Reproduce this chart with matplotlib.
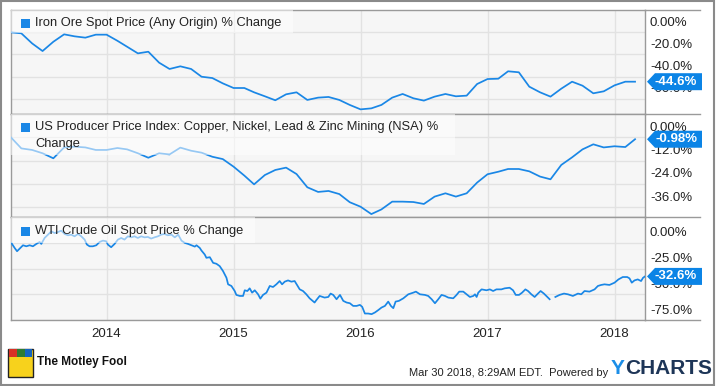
import numpy as np
import pandas as pd
import matplotlib
matplotlib.use("Agg")
import matplotlib.pyplot as plt
from matplotlib.patches import Rectangle, Polygon
from matplotlib.lines import Line2D
from matplotlib.transforms import blended_transform_factory, offset_copy

plt.rcParams['font.family'] = ['Liberation Sans', 'DejaVu Sans']

# ---------------- data ----------------
month_dates = pd.date_range('2013-04-01', periods=60, freq='MS')

iron_ore = [0, -0.9, -10.0, -16.9, -8.5, -1.8, -3.6, -4.8, -2.1, -2.1,
            -7.6, -13.0, -19.0, -17.5, -27.4, -33.1, -30.7, -33.1, -40.1, -41.3,
            -46.1, -50.3, -50.3, -54.2, -57.8, -61.4, -56.0, -54.2, -61.1, -59.0,
            -58.4, -61.1, -65.6, -69.6, -68.7, -65.6, -59.0, -55.7, -59.6, -61.7,
            -58.1, -55.7, -57.8, -57.2, -46.7, -42.2, -41.9, -35.2, -36.1, -49.1,
            -54.2, -58.1, -50.9, -44.6, -48.2, -55.1, -53.3, -47.9, -44.6, -44.6]

ppi_metals = [0, -5.7, -6.5, -8.2, -10.8, -5.2, -4.8, -5.2, -6.5, -6.5,
              -5.5, -6.2, -8.2, -10.5, -8.2, -8.8, -5.3, -6.9, -7.9, -10.0,
              -11.2, -15.1, -19.7, -24.2, -19.4, -16.8, -15.6, -18.9, -25.7, -28.1,
              -27.6, -29.2, -33.4, -35.7, -39.5, -37.1, -33.1, -33.1, -33.3, -34.3,
              -30.5, -28.8, -30.5, -28.8, -23.3, -19.0, -17.7, -16.3, -16.3, -17.5,
              -20.2, -21.6, -14.2, -10.3, -6.2, -3.6, -5.2, -4.6, -5.0, -0.98]

wti_points = [
    (2013.250, 0), (2013.276, -4.9), (2013.295, -8.1), (2013.316, -5.5), (2013.342, -2.3),
    (2013.368, -3.3), (2013.394, -2.3), (2013.420, -3.3), (2013.447, -1.0), (2013.473, 0.9),
    (2013.486, -1.0), (2013.512, 4.8), (2013.538, 8.0), (2013.565, 11.2), (2013.591, 9.6),
    (2013.617, 10.6), (2013.643, 11.9), (2013.670, 8.7), (2013.696, 7.4), (2013.722, 8.0),
    (2013.748, 6.4), (2013.775, 8.7), (2013.801, 6.4), (2013.827, 3.2), (2013.845, -1.6),
    (2013.866, -3.3), (2013.892, -3.3), (2013.919, -2.3), (2013.945, 0.9), (2013.971, 2.2),
    (2013.997, 1.6), (2014.010, -1.6), (2014.036, -4.2), (2014.063, -1.0), (2014.089, 3.2),
    (2014.115, 4.8), (2014.141, 3.2), (2014.167, 6.4), (2014.194, 5.4), (2014.220, 6.4),
    (2014.246, 4.8), (2014.272, 6.4), (2014.299, 5.4), (2014.325, 5.8), (2014.351, 4.2),
    (2014.377, 5.4), (2014.404, 6.4), (2014.430, 8.0), (2014.456, 8.7), (2014.482, 7.4),
    (2014.511, 8.0), (2014.537, 5.4), (2014.564, 8.0), (2014.590, 2.2), (2014.616, 0.0),
    (2014.642, -1.0), (2014.669, -2.3), (2014.695, -3.6), (2014.708, -2.3), (2014.734, -4.9),
    (2014.747, -7.4), (2014.773, -11.3), (2014.786, -14.5), (2014.813, -13.9), (2014.839, -19.4),
    (2014.865, -20.3), (2014.891, -22.6), (2014.917, -27.4), (2014.944, -33.9), (2014.957, -40.3),
    (2014.983, -41.9), (2015.009, -46.8), (2015.022, -50.6), (2015.049, -51.6), (2015.075, -51.6),
    (2015.088, -46.1), (2015.109, -46.8), (2015.127, -44.2), (2015.146, -48.4), (2015.167, -46.1),
    (2015.193, -50.0), (2015.211, -54.2), (2015.232, -50.6), (2015.259, -48.4), (2015.285, -41.9),
    (2015.311, -42.9), (2015.337, -40.3), (2015.363, -37.1), (2015.382, -40.3), (2015.403, -37.7),
    (2015.429, -36.5), (2015.455, -37.7), (2015.481, -37.1), (2015.494, -39.7), (2015.521, -45.2),
    (2015.547, -46.8), (2015.573, -50.0), (2015.599, -53.9), (2015.638, -58.0), (2015.651, -55.8),
    (2015.678, -51.6), (2015.704, -52.6), (2015.717, -53.2), (2015.746, -52.6), (2015.764, -49.3),
    (2015.785, -50.6), (2015.811, -54.8), (2015.838, -50.6), (2015.864, -56.4), (2015.890, -58.0),
    (2015.916, -58.7), (2015.942, -61.3), (2015.969, -61.3), (2015.995, -60.3), (2016.013, -62.2),
    (2016.034, -68.7), (2016.060, -68.7), (2016.087, -69.3), (2016.113, -67.7), (2016.139, -65.4),
    (2016.165, -62.9), (2016.192, -61.3), (2016.218, -57.1), (2016.239, -61.3), (2016.258, -63.5),
    (2016.276, -57.1), (2016.302, -56.4), (2016.337, -53.9), (2016.376, -50.0), (2016.415, -48.4),
    (2016.436, -47.4), (2016.468, -50.0), (2016.507, -50.6), (2016.533, -51.6), (2016.560, -54.8),
    (2016.586, -58.7), (2016.612, -54.8), (2016.638, -50.6), (2016.665, -51.6), (2016.691, -53.2),
    (2016.730, -53.9), (2016.756, -50.6), (2016.777, -47.4), (2016.809, -47.4), (2016.835, -50.0),
    (2016.861, -52.6), (2016.888, -51.6), (2016.901, -50.0), (2016.914, -52.6), (2016.927, -48.4),
    (2016.953, -45.2), (2016.992, -46.1), (2017.018, -45.2), (2017.044, -46.8), (2017.070, -45.2),
    (2017.109, -45.2), (2017.135, -44.2), (2017.174, -43.6), (2017.201, -46.1), (2017.222, -50.6),
    (2017.248, -50.6), (2017.272, -48.4), (2017.298, -45.2), (2017.319, -46.8), (2017.345, -50.0),
    (2017.371, -52.6), (2017.397, -49.3), (2017.418, -46.8), (2017.444, -49.3), (2017.471, -52.6),
    (2017.489, -54.8), (2017.510, np.nan), (2017.534, -52.6), (2017.567, -50.6), (2017.602, -49.3),
    (2017.633, -50.0), (2017.672, -51.6), (2017.712, -49.3), (2017.738, -50.0), (2017.764, -46.8),
    (2017.803, -47.4), (2017.843, -45.2), (2017.869, -41.9), (2017.895, -40.9), (2017.921, -40.3),
    (2017.960, -40.9), (2018.000, -38.7), (2018.031, -35.5), (2018.065, -33.2), (2018.100, -33.2),
    (2018.118, -34.5), (2018.136, -38.7), (2018.157, -36.5), (2018.183, -35.5), (2018.209, -37.1),
    (2018.225, -33.9), (2018.240, -32.6),
]

titles = ["Iron Ore Spot Price (Any Origin) % Change",
          "US Producer Price Index: Copper, Nickel, Lead & Zinc Mining (NSA) %",
          "WTI Crude Oil Spot Price % Change"]
last_labels = ["-44.6%", "-0.98%", "-32.6%"]
last_values = [-44.6, -0.98, -32.6]
ytick_vals = [[0, -20, -40, -60], [0, -12, -24, -36], [0, -25, -50, -75]]
ytick_labels = [["0.00%", "-20.0%", "-40.0%", "-60.0%"],
                ["0.00%", "-12.0%", "-24.0%", "-36.0%"],
                ["0.00%", "-25.0%", "-50.0%", "-75.0%"]]
year_ticks = [2014, 2015, 2016, 2017, 2018]

# ---------------- style ----------------
W, H = 720, 386
LINE = '#1a87e6'
CALL = '#0b84e6'
GRID = '#e2e2e2'
SPINE = '#9a9a9a'
BG = '#f6f6f6'
FS = 9.3


def frac_year(d):
    return d.year + (d.dayofyear - 1) / 365.0


month_x = np.array([frac_year(d) for d in month_dates])
wti_x = np.array([p[0] for p in wti_points])
wti_y = np.array([p[1] for p in wti_points], dtype=float)

fig = plt.figure(figsize=(W / 100, H / 100), dpi=100)


def fx(px):
    return px / W


def fy(py):
    return 1 - py / H


LEFT, RIGHT = 10.7, 645
panels = [(10, 114, (-73.8, 20.2)), (114, 217, (-41.0, 12.0)), (217, 320, (-73.5, 25.2))]
series = [(month_x, iron_ore), (month_x, ppi_metals), (wti_x, wti_y)]
xlim = (2013.245, 2018.24)

axes = []
for i, ((top, bot, ylim), (xs, ys)) in enumerate(zip(panels, series)):
    ax = fig.add_axes([fx(LEFT), fy(bot), fx(RIGHT) - fx(LEFT), (bot - top) / H])
    ax.set_facecolor(BG)
    ax.plot(xs, ys, color=LINE, lw=1.25, zorder=3, solid_joinstyle='round')
    ax.set_xlim(*xlim)
    ax.set_ylim(*ylim)
    ax.set_yticks(ytick_vals[i])
    ax.set_xticks(year_ticks)
    ax.grid(True, color=GRID, lw=1)
    ax.set_axisbelow(True)
    ax.tick_params(left=False, right=False, bottom=False, top=False,
                   labelleft=False, labelbottom=False)
    for s in ax.spines.values():
        s.set_color(SPINE)
        s.set_linewidth(1)
    # right-side labels above gridlines
    tr = offset_copy(blended_transform_factory(ax.transAxes, ax.transData), fig=fig,
                     x=5, y=9.5, units='dots')
    for v, lab in zip(ytick_vals[i], ytick_labels[i]):
        ax.text(1, v, lab, transform=tr, ha='left', va='center', fontsize=9.5,
                color='#222222', clip_on=False, zorder=4)
    axes.append(ax)

axes[2].tick_params(labelbottom=True, pad=2.5, labelsize=9.5, labelcolor='#222222')
axes[2].set_xticklabels([str(y) for y in year_ticks])

# horizontal separators extending into label column
for yy in [10, 114, 217, 320]:
    fig.add_artist(Line2D([fx(RIGHT), fx(700)], [fy(yy), fy(yy)], color=SPINE, lw=1))

# legend boxes
legend_boxes = [(293, 10, 33), (455, 114, 155), (255, 217, 243)]
for (xr, yt, yb) in legend_boxes:
    fig.add_artist(Rectangle((fx(LEFT + 0.5), fy(yb)), fx(xr) - fx(LEFT + 0.5), (yb - yt) / H,
                             transform=fig.transFigure, facecolor='white', alpha=0.55,
                             edgecolor='none', zorder=2))

marker_tops = [18.5, 122.8, 226.7]
text_centers = [23, 127, 231]
for i in range(3):
    fig.add_artist(Rectangle((fx(21), fy(marker_tops[i] + 9)), fx(9), 9 / H,
                             transform=fig.transFigure, facecolor=LINE, edgecolor='none', zorder=3))
    fig.text(fx(35), fy(text_centers[i]), titles[i], ha='left', va='center',
             fontsize=FS, color='#222222', zorder=4)
fig.text(fx(35), fy(144), "Change", ha='left', va='center', fontsize=FS,
         color='#222222', zorder=4)

# callouts
inv = fig.transFigure.inverted()
for ax, val, lab in zip(axes, last_values, last_labels):
    xd = ax.transAxes.transform((1, 0))[0]
    yd = ax.transData.transform((0, val))[1]
    verts = [(xd + 2, yd), (xd + 10, yd + 8.5), (xd + 57, yd + 8.5),
             (xd + 57, yd - 8.5), (xd + 10, yd - 8.5)]
    fig.add_artist(Polygon(inv.transform(verts), closed=True, facecolor=CALL,
                           edgecolor='none', transform=fig.transFigure, zorder=6))
    tx, ty = inv.transform((xd + 31, yd))
    fig.text(tx, ty, lab, ha='center', va='center', fontsize=9.5, color='white',
             fontweight='bold', zorder=7)

# outer border
fig.add_artist(Rectangle((fx(1), fy(385)), fx(713), 384 / H, transform=fig.transFigure,
                         facecolor='none', edgecolor='#8a8a8a', lw=1.5, zorder=1))

# footer: Motley Fool logo (simple)
fig.add_artist(Rectangle((fx(8), fy(377)), fx(25), 28 / H, transform=fig.transFigure,
                         facecolor='#f7d21c', edgecolor='#222222', lw=1, zorder=3))
fig.add_artist(Rectangle((fx(9), fy(357)), fx(8), 8 / H, transform=fig.transFigure,
                         facecolor='#d93025', edgecolor='none', zorder=4))
fig.add_artist(Rectangle((fx(17), fy(357)), fx(8), 8 / H, transform=fig.transFigure,
                         facecolor='#2e7d32', edgecolor='none', zorder=4))
fig.add_artist(Rectangle((fx(25), fy(357)), fx(7), 8 / H, transform=fig.transFigure,
                         facecolor='#1565c0', edgecolor='none', zorder=4))
fig.text(fx(37), fy(362), "The Motley Fool", ha='left', va='center', fontsize=8.5,
         fontweight='bold', color='#111111')

fig.text(fx(608), fy(373), "Mar 30 2018, 8:29AM EDT.  Powered by", ha='right',
         va='center', fontsize=8, color='#222222')
fig.text(fx(611), fy(369), "Y", ha='left', va='center', fontsize=15,
         fontweight='bold', color='#1b8ee8')
fig.text(fx(625), fy(369), "CHARTS", ha='left', va='center', fontsize=15,
         fontweight='bold', color='#1d3557')

fig.savefig("out.png", dpi=100)
